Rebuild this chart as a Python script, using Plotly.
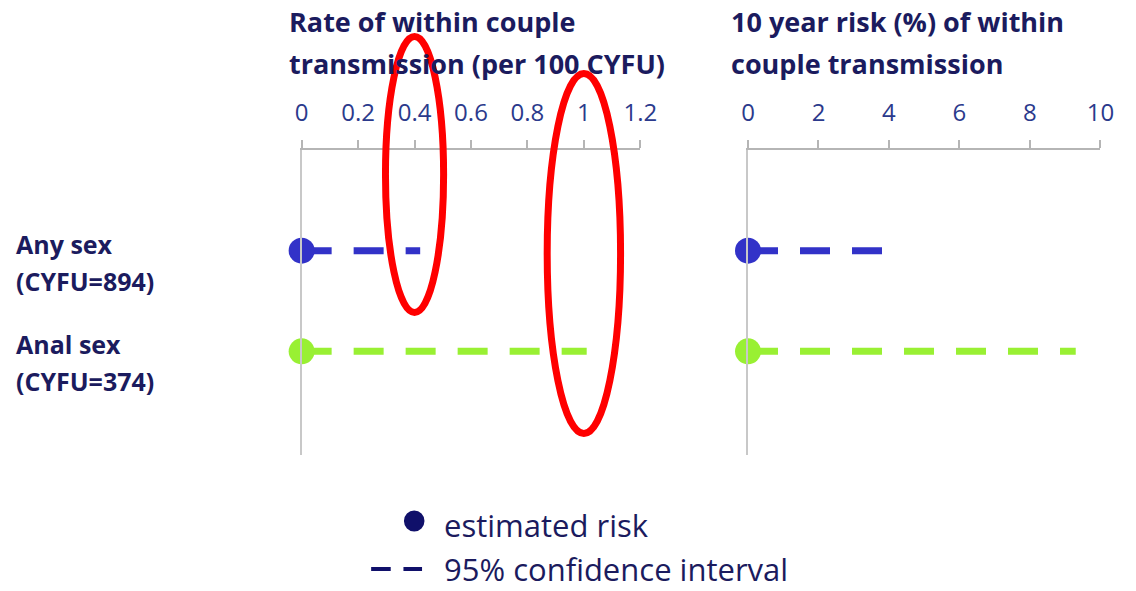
import plotly.graph_objects as go

# ---- data ----
groups = ["Any sex", "Anal sex"]
cyfu = [894, 374]
rate_est = [0, 0]          # rate of within couple transmission (per 100 CYFU)
rate_upper = [0.42, 1.01]  # upper 95% CI
risk_est = [0, 0]          # 10 year risk (%)
risk_upper = [4.0, 9.3]    # upper 95% CI
rate_ticks = [0, 0.2, 0.4, 0.6, 0.8, 1, 1.2]
risk_ticks = [0, 2, 4, 6, 8, 10]
highlight_vals = [0.4, 1.0]
row_pos = [1, 2]

colors = ["#3232c8", "#99f033"]
NAVY = "#1b1b5e"
TICK = "#2b3a8c"
FONT = "Open Sans"
W, H = 1136, 591

fig = go.Figure()

def px_x(p):
    return p / W

def px_y(p):
    return 1 - p / H

for i in range(len(groups)):
    fig.add_trace(go.Scatter(x=[rate_est[i], rate_upper[i]], y=[row_pos[i]] * 2, mode="lines",
                             line=dict(color=colors[i], width=7, dash="30px,22px"),
                             xaxis="x", yaxis="y", showlegend=False, hoverinfo="skip"))
    fig.add_trace(go.Scatter(x=[risk_est[i], risk_upper[i]], y=[row_pos[i]] * 2, mode="lines",
                             line=dict(color=colors[i], width=7, dash="30px,22px"),
                             xaxis="x2", yaxis="y2", showlegend=False, hoverinfo="skip"))
for i in range(len(groups)):
    fig.add_trace(go.Scatter(x=[rate_est[i]], y=[row_pos[i]], mode="markers",
                             marker=dict(color=colors[i], size=26),
                             xaxis="x", yaxis="y", showlegend=False, cliponaxis=False))
    fig.add_trace(go.Scatter(x=[risk_est[i]], y=[row_pos[i]], mode="markers",
                             marker=dict(color=colors[i], size=26),
                             xaxis="x2", yaxis="y2", showlegend=False, cliponaxis=False))

xcommon = dict(side="top", showline=True, linecolor="#b5b5b5", linewidth=1.5,
               ticks="outside", ticklen=8, tickcolor="#b5b5b5", tickwidth=1.5,
               showgrid=False, zeroline=False,
               tickfont=dict(family=FONT, size=24, color=TICK), ticklabelstandoff=10)
ycommon = dict(range=[3.03, 0], domain=[px_y(455), px_y(150)], showline=True,
               linecolor="#c8c8c8", linewidth=2, showticklabels=False, ticks="",
               showgrid=False, zeroline=False)

fig.update_layout(
    width=W, height=H, margin=dict(l=0, r=0, t=0, b=0),
    paper_bgcolor="white", plot_bgcolor="white",
    xaxis=dict(domain=[px_x(301), px_x(647)], range=[0, 1.2], anchor="y",
               tickvals=rate_ticks, ticktext=[f"{v:g}" for v in rate_ticks], **xcommon),
    yaxis=dict(anchor="x", **ycommon),
    xaxis2=dict(domain=[px_x(757), px_x(1117)], range=[0, 10], anchor="y2",
                tickvals=risk_ticks, ticktext=[str(v) for v in risk_ticks], **xcommon),
    yaxis2=dict(anchor="x2", **ycommon),
    showlegend=False,
)

ann = []
title_font = dict(family=FONT, size=27, color=NAVY, weight="bold")
for x0, lines in [(286, ["Rate of within couple", "transmission (per 100 CYFU)"]),
                  (738, ["10 year risk (%) of within", "couple transmission"])]:
    for k, t in enumerate(lines):
        ann.append(dict(text=t, xref="paper", yref="paper", x=px_x(x0), y=px_y(22 + 42 * k),
                        xanchor="left", yanchor="middle", showarrow=False, font=title_font))
lab_font = dict(family=FONT, size=25, color=NAVY, weight="bold")
for i, g in enumerate(groups):
    ann.append(dict(text=g, xref="paper", yref="y", x=px_x(7), y=row_pos[i], yshift=7,
                    xanchor="left", yanchor="middle", showarrow=False, font=lab_font))
    ann.append(dict(text=f"(CYFU={cyfu[i]})", xref="paper", yref="y", x=px_x(7), y=row_pos[i],
                    yshift=-30, xanchor="left", yanchor="middle", showarrow=False, font=lab_font))
leg_font = dict(family=FONT, size=31, color=NAVY)
ann.append(dict(text="estimated risk", xref="paper", yref="paper", x=px_x(444), y=px_y(525),
                xanchor="left", yanchor="middle", showarrow=False, font=leg_font))
ann.append(dict(text="95% confidence interval", xref="paper", yref="paper", x=px_x(444), y=px_y(569),
                xanchor="left", yanchor="middle", showarrow=False, font=leg_font))
fig.update_layout(annotations=ann)

shapes = []
shapes.append(dict(type="circle", xref="paper", yref="paper", x0=px_x(405.5), x1=px_x(426.5),
                   y0=px_y(531.5), y1=px_y(510.5), fillcolor="#10106a", line=dict(width=0)))
for a, b in [(372, 392), (405, 424)]:
    shapes.append(dict(type="line", xref="paper", yref="paper", x0=px_x(a), x1=px_x(b),
                       y0=px_y(569), y1=px_y(569), line=dict(color="#10106a", width=4)))
for v, (ya, yb), half in [(highlight_vals[0], (36.5, 312.5), 0.103),
                          (highlight_vals[1], (73.5, 433.5), 0.130)]:
    shapes.append(dict(type="circle", xref="x", yref="paper", x0=v - half, x1=v + half,
                       y0=px_y(yb), y1=px_y(ya), line=dict(color="#ff0000", width=7),
                       layer="above"))
fig.update_layout(shapes=shapes)

fig.write_html(
    "out.html",
    config={"displayModeBar": False},
    post_script=("document.documentElement.style.margin='0';document.documentElement.style.overflow='hidden';"
                 "document.body.style.margin='0';document.body.style.overflow='hidden';"),
)
